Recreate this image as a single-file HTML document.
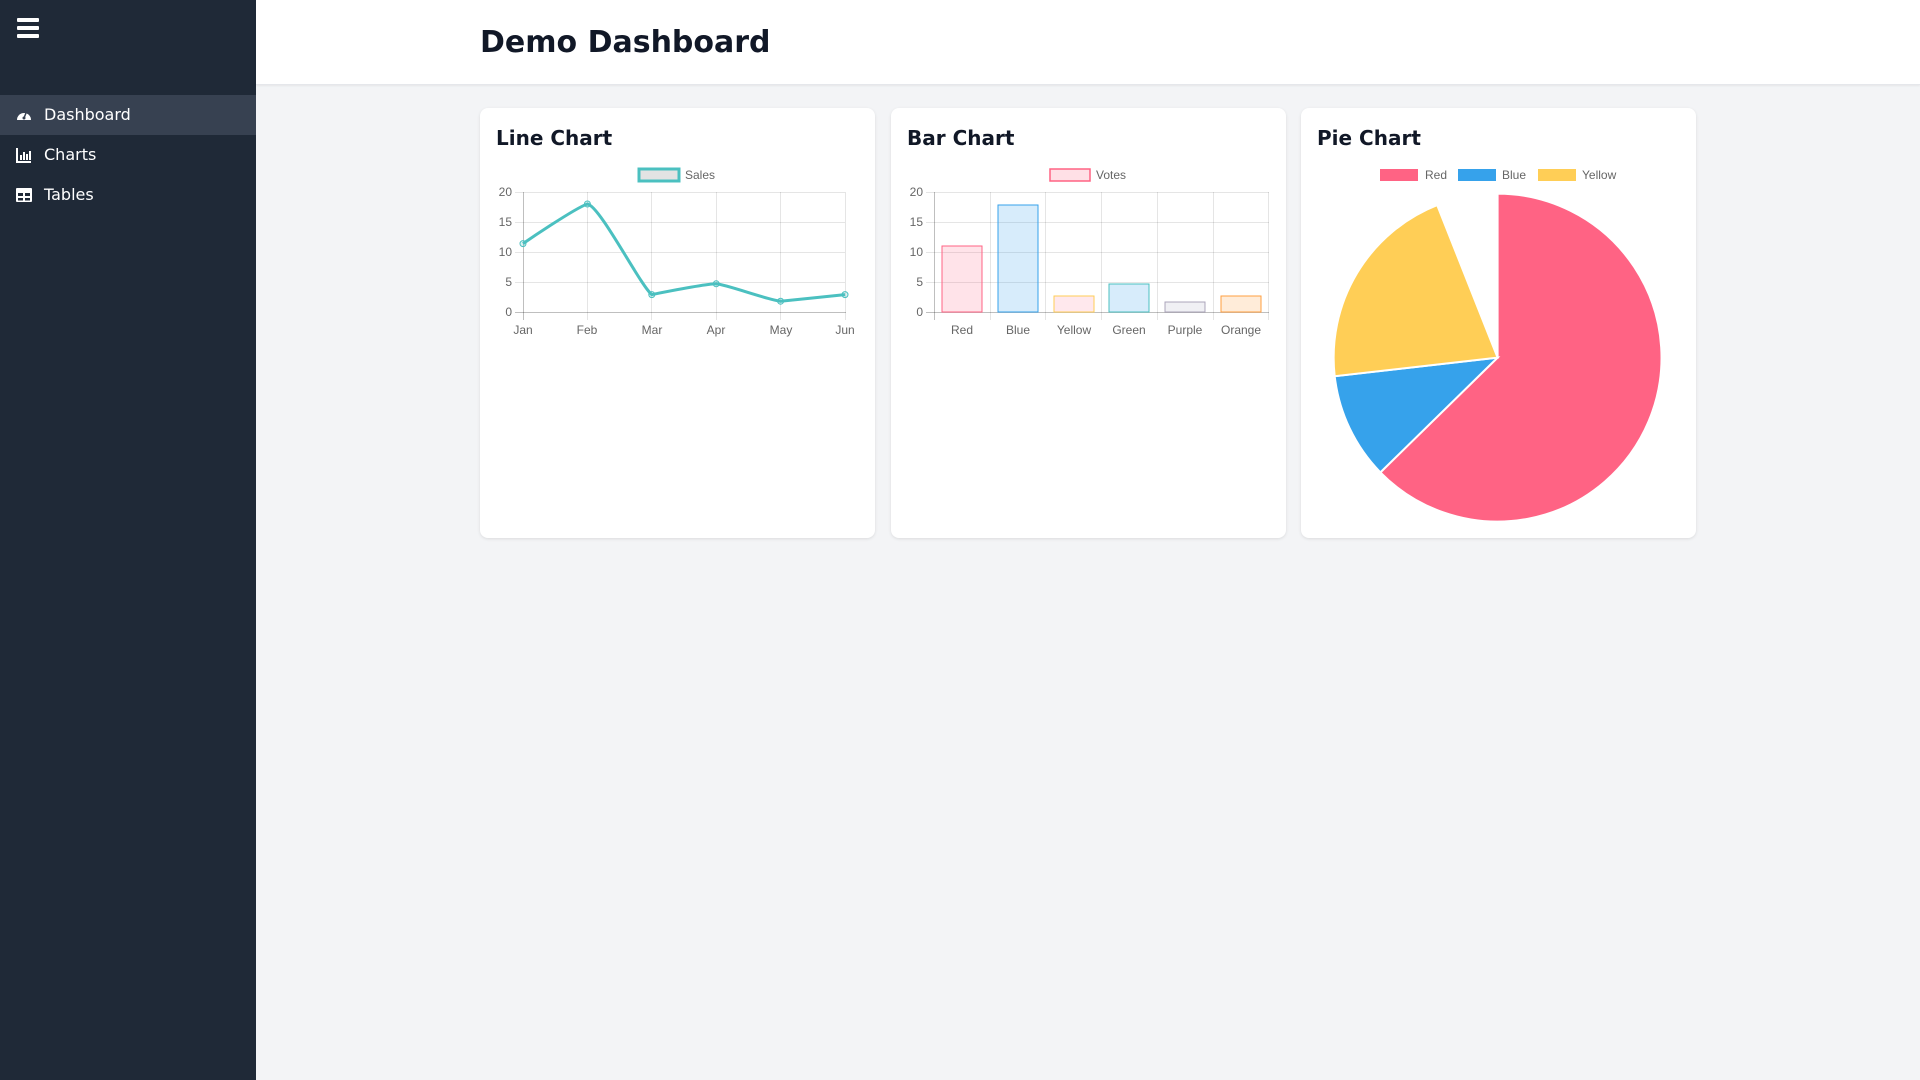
<!DOCTYPE html>
<html><head><meta charset="utf-8"><style>
*{box-sizing:border-box;margin:0;padding:0}
body{width:1920px;height:1080px;background:#f3f4f6;font-family:"DejaVu Sans",sans-serif;position:relative;overflow:hidden}
.side{position:absolute;left:0;top:0;width:256px;height:1080px;background:#1f2937;color:#fff}
.item{position:absolute;left:0;width:256px;height:40px;font-size:16px;line-height:40px;padding-left:44px}
.item.act{background:#374151}
.hdr{position:absolute;left:256px;top:0;width:1664px;height:85px;background:#fff;border-bottom:1px solid #e5e7eb;box-shadow:0 1px 2px rgba(0,0,0,.06)}
.hdr h1{position:absolute;left:224px;top:25px;font-size:30px;font-weight:bold;color:#111827}
.card{position:absolute;top:108px;width:395px;height:430px;background:#fff;border-radius:8px;box-shadow:0 1px 3px rgba(0,0,0,.1)}
.card h2{position:absolute;left:16px;top:18px;font-size:20px;font-weight:bold;color:#111827}
svg.ov{position:absolute;left:0;top:0}
svg text{font-family:"Liberation Sans",sans-serif;font-size:12px;fill:#666}
</style></head><body>
<div class="side">
<svg style="position:absolute;left:17px;top:18px" width="22" height="20"><rect x="0" y="0" width="22" height="4" rx="1" fill="#fff"/><rect x="0" y="8" width="22" height="4" rx="1" fill="#fff"/><rect x="0" y="16" width="22" height="4" rx="1" fill="#fff"/></svg>
<div class="item act" style="top:95px">Dashboard</div>
<div class="item" style="top:135px">Charts</div>
<div class="item" style="top:175px">Tables</div>
<svg style="position:absolute;left:16px;top:107px" width="16" height="16"><path d="M1,13 A7,7 0 1 1 15,13 Z" fill="#fff"/><circle cx="8" cy="11" r="1.5" fill="#374151"/><line x1="8" y1="11" x2="10" y2="6" stroke="#374151" stroke-width="1.5"/></svg>
<svg style="position:absolute;left:16px;top:147px" width="16" height="16"><path d="M1,1 V15 H15" stroke="#fff" stroke-width="2" fill="none"/><rect x="4" y="8" width="2" height="5" fill="#fff"/><rect x="7" y="5" width="2" height="8" fill="#fff"/><rect x="10" y="7" width="2" height="6" fill="#fff"/><rect x="13" y="4" width="2" height="9" fill="#fff"/></svg>
<svg style="position:absolute;left:16px;top:187px" width="16" height="16"><rect x="0" y="1" width="16" height="14" rx="1" fill="#fff"/><rect x="2" y="6" width="5" height="3" fill="#1f2937"/><rect x="9" y="6" width="5" height="3" fill="#1f2937"/><rect x="2" y="11" width="5" height="2.5" fill="#1f2937"/><rect x="9" y="11" width="5" height="2.5" fill="#1f2937"/></svg>
</div>
<div class="hdr"><h1>Demo Dashboard</h1></div>
<div class="card" style="left:480px"><h2>Line Chart</h2></div>
<div class="card" style="left:891px"><h2>Bar Chart</h2></div>
<div class="card" style="left:1301px"><h2>Pie Chart</h2></div>
<svg class="ov" width="1920" height="1080">
<g stroke="rgba(0,0,0,0.1)" stroke-width="1">
<line x1="515" y1="192.5" x2="845" y2="192.5"/><line x1="515" y1="222.5" x2="845" y2="222.5"/><line x1="515" y1="252.5" x2="845" y2="252.5"/><line x1="515" y1="282.5" x2="845" y2="282.5"/>
<line x1="587.5" y1="192" x2="587.5" y2="320"/><line x1="651.5" y1="192" x2="651.5" y2="320"/><line x1="716.5" y1="192" x2="716.5" y2="320"/><line x1="780.5" y1="192" x2="780.5" y2="320"/><line x1="845.5" y1="192" x2="845.5" y2="320"/>
</g>
<g stroke="rgba(0,0,0,0.25)"><line x1="515" y1="312.5" x2="846" y2="312.5"/><line x1="523.5" y1="192" x2="523.5" y2="320"/></g>
<rect x="639" y="169" width="40" height="12" fill="rgba(200,200,200,0.5)" stroke="rgb(75,192,192)" stroke-width="3"/>
<text x="685" y="179">Sales</text>
<g text-anchor="end"><text x="512" y="196">20</text><text x="512" y="226">15</text><text x="512" y="256">10</text><text x="512" y="286">5</text><text x="512" y="316">0</text></g>
<g text-anchor="middle"><text x="523" y="334">Jan</text><text x="587" y="334">Feb</text><text x="652" y="334">Mar</text><text x="716" y="334">Apr</text><text x="781" y="334">May</text><text x="845" y="334">Jun</text></g>
<path d="M523,243.6 C523,243.6 575,208 587.4,204 C600,206 640,285 651.8,294.6 C665,292 705,284 716.2,283.8 C728,285 768,300 780.6,301.2 C794,300 845,294.6 845,294.6" fill="none" stroke="rgb(75,192,192)" stroke-width="3"/>
<g fill="rgba(75,192,192,0.2)" stroke="rgb(75,192,192)"><circle cx="523" cy="243.6" r="3"/><circle cx="587.4" cy="204" r="3"/><circle cx="651.8" cy="294.6" r="3"/><circle cx="716.2" cy="283.8" r="3"/><circle cx="780.6" cy="301.2" r="3"/><circle cx="845" cy="294.6" r="3"/></g>
<g stroke="rgba(0,0,0,0.1)">
<line x1="926" y1="192.5" x2="1269" y2="192.5"/><line x1="926" y1="222.5" x2="1269" y2="222.5"/><line x1="926" y1="252.5" x2="1269" y2="252.5"/><line x1="926" y1="282.5" x2="1269" y2="282.5"/>
<line x1="990.5" y1="192" x2="990.5" y2="320"/><line x1="1045.5" y1="192" x2="1045.5" y2="320"/><line x1="1101.5" y1="192" x2="1101.5" y2="320"/><line x1="1157.5" y1="192" x2="1157.5" y2="320"/><line x1="1213.5" y1="192" x2="1213.5" y2="320"/><line x1="1268.5" y1="192" x2="1268.5" y2="320"/>
</g>
<g stroke="rgba(0,0,0,0.25)"><line x1="926" y1="312.5" x2="1269" y2="312.5"/><line x1="934.5" y1="192" x2="934.5" y2="320"/></g>
<rect x="1050" y="169" width="40" height="12" fill="rgba(255,99,132,0.2)" stroke="rgb(255,99,132)" stroke-width="1.5"/>
<text x="1096" y="179">Votes</text>
<g text-anchor="end"><text x="923" y="196">20</text><text x="923" y="226">15</text><text x="923" y="256">10</text><text x="923" y="286">5</text><text x="923" y="316">0</text></g>
<g text-anchor="middle"><text x="962" y="334">Red</text><text x="1018" y="334">Blue</text><text x="1074" y="334">Yellow</text><text x="1129" y="334">Green</text><text x="1185" y="334">Purple</text><text x="1241" y="334">Orange</text></g>
<rect x="942" y="246" width="40" height="66" fill="rgba(255,99,132,0.18)" stroke="rgb(255,99,132)"/>
<rect x="998" y="205" width="40" height="107" fill="rgba(54,162,235,0.2)" stroke="rgb(54,162,235)"/>
<rect x="1054" y="296" width="40" height="16" fill="rgba(255,99,132,0.15)" stroke="rgb(255,206,86)"/>
<rect x="1109" y="284" width="40" height="28" fill="rgba(54,162,235,0.2)" stroke="rgb(75,192,192)"/>
<rect x="1165" y="302" width="40" height="10" fill="rgba(180,180,200,0.2)" stroke="rgba(140,130,160,0.7)"/>
<rect x="1221" y="296" width="40" height="16" fill="rgba(255,159,64,0.2)" stroke="rgb(255,159,64)"/>
<rect x="1380" y="169" width="38" height="12" fill="rgb(255,99,132)"/><text x="1425" y="179">Red</text>
<rect x="1458" y="169" width="38" height="12" fill="rgb(54,162,235)"/><text x="1502" y="179">Blue</text>
<rect x="1538" y="169" width="38" height="12" fill="rgb(255,206,86)"/><text x="1582" y="179">Yellow</text>
<g stroke="#fff" stroke-width="2">
<path d="M1497.6,357.6 L1497.6,193.6 A164,164 0 1 1 1380.4,472.4 Z" fill="rgb(255,99,132)"/>
<path d="M1497.6,357.6 L1380.4,472.4 A164,164 0 0 1 1334.7,376.2 Z" fill="rgb(54,162,235)"/>
<path d="M1497.6,357.6 L1334.7,376.2 A164,164 0 0 1 1437.2,205.1 Z" fill="rgb(255,206,86)"/>
</g>
</svg>
</body></html>
